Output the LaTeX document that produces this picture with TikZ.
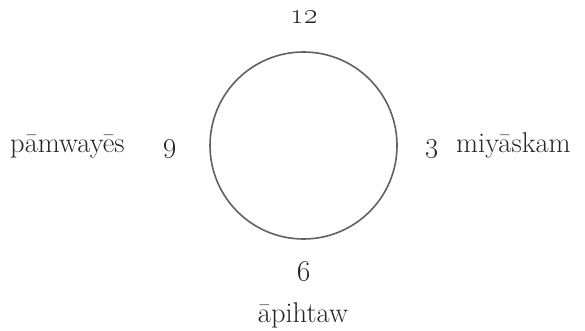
\documentclass[tikz,border=0pt]{standalone}
\usepackage{fix-cm}
\begin{document}
\begin{tikzpicture}[x=1pt,y=-1pt,
  lbl/.style={inner sep=0pt, font=\fontsize{28.5}{34}\selectfont, text=black!85},
  clock/.style={circle, draw=black!62, line width=1.6pt, minimum size=187pt, inner sep=0pt}]
\useasboundingbox (0,0) rectangle (585,331);
\node[clock] (c) at (303.5,145.5) {};
\node[lbl, anchor=base] (n12) at (304,24) {\oldstylenums{12}};
\node[lbl, anchor=base] (n9) at (170.5,152) {\oldstylenums{9}};
\node[lbl, anchor=base] (n3) at (432,152) {\oldstylenums{3}};
\node[lbl, anchor=base] (n6) at (304,280) {\oldstylenums{6}};
\node[lbl, anchor=base west] (west) at (10,152) {pāmwayēs};
\node[lbl, anchor=base west] (east) at (456,152) {miyāskam};
\node[lbl, anchor=base] (south) at (303,322) {āpihtaw};
\end{tikzpicture}
\end{document}
